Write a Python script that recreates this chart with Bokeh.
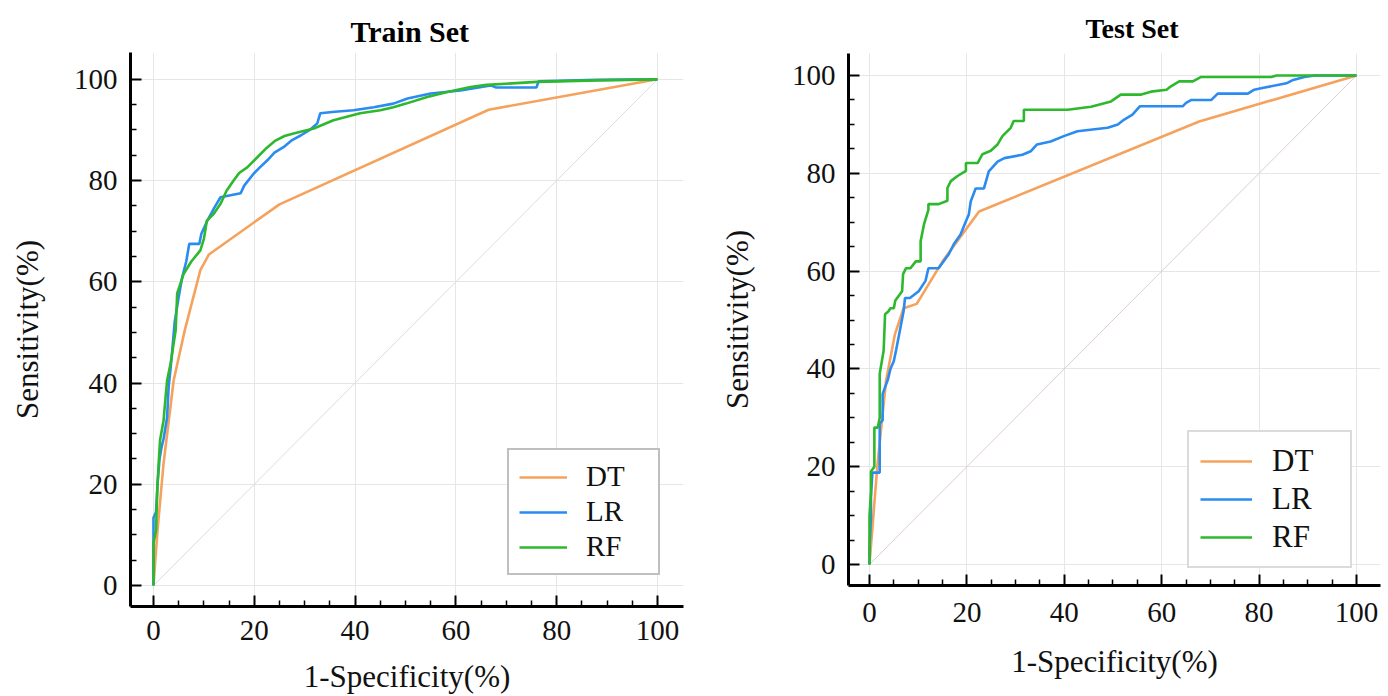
from bokeh.plotting import figure
from bokeh.layouts import row, column, Spacer
from bokeh.models import Legend, LegendItem, FixedTicker, Range1d
from bokeh.embed import file_html
from bokeh.resources import INLINE

FONT = "Liberation Serif"

# ---------------- data ----------------
series_names = ["DT", "LR", "RF"]
major_ticks = [0, 20, 40, 60, 80, 100]
minor_ticks = [5, 10, 15, 25, 30, 35, 45, 50, 55, 65, 70, 75, 85, 90, 95]
diag_x = [0, 100]
diag_y = [0, 100]

# Train set
train_dt_x = [0, 0.8, 2.0, 4.0, 6.2, 9.3, 11.0, 25.0, 66.5, 100]
train_dt_y = [0, 10.9, 24.1, 40.5, 50.4, 62.3, 65.4, 75.3, 94.0, 100]

train_lr_x = [0, 0, 0.5, 0.8, 1.2, 1.6, 2.0, 2.7, 3.0, 3.6, 4.2, 5.0, 5.7, 6.5, 7.1, 9.1, 9.5,
              10.7, 12.0, 13.3, 17.3, 18.0, 19.9, 21.0, 22.6, 24.0, 25.8, 27.5, 29.2, 31.0, 32.5,
              33.1, 36.0, 39.7, 43.7, 47.6, 50.4, 55.0, 60.9, 66.9, 68.0, 76.0, 76.4, 88.0, 100]
train_lr_y = [0, 13.4, 14.5, 20.0, 25.0, 27.3, 29.0, 33.2, 39.1, 45.0, 52.0, 57.0, 60.9, 64.0, 67.5, 67.5, 69.5,
              72.1, 74.5, 76.7, 77.5, 79.0, 81.4, 82.5, 84.0, 85.5, 86.6, 88.0, 88.9, 90.0, 91.3,
              93.3, 93.6, 93.9, 94.5, 95.2, 96.2, 97.2, 97.8, 98.8, 98.4, 98.4, 99.6, 99.9, 100]

train_rf_x = [0, 0, 0.5, 0.8, 1.1, 1.3, 2.0, 2.4, 2.7, 3.4, 4.0, 4.4, 4.7, 6.0, 7.5, 9.3, 10.0, 10.6,
              12.0, 13.3, 14.5, 15.9, 17.0, 18.6, 20.6, 22.5, 24.2, 26.0, 27.8, 31.8, 35.7, 41.0,
              45.0, 47.6, 50.1, 54.3, 58.3, 62.9, 66.1, 76.1, 88.0, 100]
train_rf_y = [0, 8.3, 10.9, 20.1, 25.3, 28.7, 32.6, 37.2, 40.5, 43.9, 47.8, 50.4, 57.7, 61.6, 64.0, 66.2, 68.5, 72.1,
              73.5, 75.4, 78.0, 80.0, 81.5, 82.6, 84.6, 86.5, 87.9, 88.8, 89.3, 90.3, 91.9, 93.3,
              93.9, 94.5, 95.2, 96.5, 97.5, 98.5, 98.9, 99.5, 99.8, 100]

# Test set
test_dt_x = [0, 1.6, 3.4, 5.2, 7.0, 9.7, 15.0, 22.5, 67.7, 100]
test_dt_y = [0, 20.0, 37.6, 47.0, 52.4, 53.3, 62.0, 72.2, 90.6, 100]

test_lr_x = [0, 0, 0.3, 0.3, 0.6, 2.1, 2.1, 2.7, 2.7, 3.8, 4.3, 5.0, 5.5, 7.0, 7.3, 8.3, 10.1, 11.5,
             12.1, 14.2, 16.3, 17.3, 18.7, 19.8, 20.4, 20.8, 21.8, 23.5, 24.5, 26.3, 27.7, 31.4,
             33.1, 34.4, 37.2, 39.9, 42.7, 48.9, 51.0, 52.3, 54.0, 55.5, 64.3, 65.0, 66.1, 70.2,
             71.5, 77.7, 79.0, 80.4, 85.6, 87.0, 89.3, 91.4, 100]
test_lr_y = [0, 3.0, 9.6, 14.0, 18.8, 18.8, 28.8, 29.5, 34.9, 37.9, 40.0, 41.6, 44.0, 51.8, 54.5, 54.5, 55.9, 58.0,
             60.6, 60.6, 63.5, 65.5, 67.5, 70.2, 71.6, 74.3, 76.9, 76.9, 80.4, 82.4, 83.1, 83.8,
             84.5, 85.9, 86.5, 87.6, 88.6, 89.3, 90.0, 91.0, 92.0, 93.7, 93.7, 94.4, 95.0, 95.0,
             96.3, 96.3, 97.1, 97.4, 98.4, 99.1, 99.7, 100, 100]

test_rf_x = [0, 0, 0.3, 0.3, 1.0, 1.0, 1.7, 2.1, 2.1, 2.9, 3.0, 3.2, 3.9, 4.3, 5.0, 5.3, 6.7, 6.9, 7.5,
             8.4, 9.5, 10.5, 10.5, 11.2, 12.1, 12.1, 14.2, 16.0, 16.0, 16.7, 18.0, 19.8, 19.8, 22.2,
             23.2, 24.9, 26.3, 27.3, 29.0, 29.6, 31.7, 31.7, 40.7, 45.5, 49.6, 51.6, 55.8, 57.8,
             61.0, 61.9, 63.6, 66.4, 68.1, 82.5, 83.6, 100]
test_rf_y = [0, 10.0, 14.5, 19.0, 20.0, 28.0, 28.0, 30.0, 39.0, 43.7, 46.0, 51.2, 51.8, 52.4, 52.4, 54.0, 55.9, 59.4, 60.6,
             60.6, 62.0, 62.0, 66.1, 69.6, 72.5, 73.7, 73.7, 74.4, 77.0, 78.4, 79.4, 80.5, 82.1, 82.1,
             83.9, 84.6, 85.9, 87.6, 89.3, 90.7, 90.7, 93.0, 93.0, 93.6, 94.7, 96.1, 96.1, 96.7,
             97.1, 97.8, 98.8, 98.8, 99.7, 99.7, 100, 100]

COLORS = ["#F5A25D", "#2A8BF0", "#2DB82D"]


def make_fig(title, width, height, mb_left, mb_right, mb_bottom, xr, yr, curves, diag_color,
             title_size, title_offset, title_standoff, title_lh,
             ytick_standoff, ylab_standoff, xtick_standoff, xlab_standoff,
             legend_loc, legend_border, legend_font, legend_pad, legend_spacing,
             glyph_w, label_w, label_standoff):
    p = figure(width=width, height=height, x_range=Range1d(*xr), y_range=Range1d(*yr),
               output_backend="svg", toolbar_location=None,
               min_border_left=mb_left, min_border_right=mb_right,
               min_border_top=52, min_border_bottom=mb_bottom)
    p.outline_line_color = None
    p.background_fill_color = "white"
    p.border_fill_color = "white"

    p.title.text = title
    p.title.align = "left"
    p.title.text_font = FONT
    p.title.text_font_size = title_size
    p.title.text_font_style = "bold"
    p.title.text_color = "black"
    p.title.text_line_height = title_lh
    p.title.offset = title_offset
    p.title.standoff = title_standoff

    ticker = FixedTicker(ticks=major_ticks, minor_ticks=minor_ticks)
    for ax in (p.xaxis[0], p.yaxis[0]):
        ax.ticker = ticker
        ax.axis_line_width = 3
        ax.axis_line_color = "black"
        ax.major_tick_in = 11
        ax.major_tick_out = 0
        ax.minor_tick_in = 6
        ax.minor_tick_out = 0
        ax.major_tick_line_width = 2
        ax.minor_tick_line_width = 1.5
        ax.major_tick_line_color = "black"
        ax.minor_tick_line_color = "black"
        ax.major_label_text_font = FONT
        ax.major_label_text_font_size = "29px"
        ax.major_label_text_color = "#111111"
        ax.axis_label_text_font = FONT
        ax.axis_label_text_font_size = "31px"
        ax.axis_label_text_font_style = "normal"
        ax.axis_label_text_color = "#111111"
    p.yaxis[0].axis_label = "Sensitivity(%)"
    p.xaxis[0].axis_label = "1-Specificity(%)"
    p.yaxis[0].major_label_standoff = ytick_standoff
    p.xaxis[0].major_label_standoff = xtick_standoff
    p.yaxis[0].axis_label_standoff = ylab_standoff
    p.xaxis[0].axis_label_standoff = xlab_standoff

    for g in (p.xgrid[0], p.ygrid[0]):
        g.ticker = ticker
        g.grid_line_color = "#e6e6e6"
        g.grid_line_width = 1

    p.line(diag_x, diag_y, line_color=diag_color, line_width=1)

    items = []
    for name, (xs, ys), c in zip(series_names, curves, COLORS):
        r = p.line(xs, ys, line_color=c, line_width=2.6)
        items.append(LegendItem(label=name, renderers=[r]))

    legend = Legend(items=items, location=legend_loc)
    legend.label_text_font = FONT
    legend.label_text_font_size = legend_font
    legend.label_text_color = "#111111"
    legend.border_line_color = legend_border
    legend.border_line_width = 2
    legend.background_fill_alpha = 1.0
    legend.padding = legend_pad
    legend.spacing = legend_spacing
    legend.margin = 0
    legend.glyph_width = glyph_w
    legend.glyph_height = 24
    legend.label_height = 24
    legend.label_width = label_w
    legend.label_standoff = label_standoff
    p.add_layout(legend)
    return p


p1 = make_fig("Train Set", 708, 696, 130, 25, 90, (-4.56, 105.16), (-4.15, 105.3),
              [(train_dt_x, train_dt_y), (train_lr_x, train_lr_y), (train_rf_x, train_rf_y)],
              "#dcdcdc", "30px", 220, 10, 1.0,
              13, 26, 14, 16,
              (377, 31), "#808080", "29px", 10, 2, 48, 62, 19)
p2 = make_fig("Test Set", 680, 681, 140, 8, 90, (-4.31, 104.93), (-4.29, 104.5),
              [(test_dt_x, test_dt_y), (test_lr_x, test_lr_y), (test_rf_x, test_rf_y)],
              "#e2cccc", "28px", 237, 20, 0.8,
              13, 34, 17, 19,
              (339, 17), "#b8b8b8", "31px", 11, 2, 52, 67, 20)

layout = row(column(p1), column(p2, Spacer(width=680, height=15)))
open("out.html", "w").write(file_html(layout, INLINE))
